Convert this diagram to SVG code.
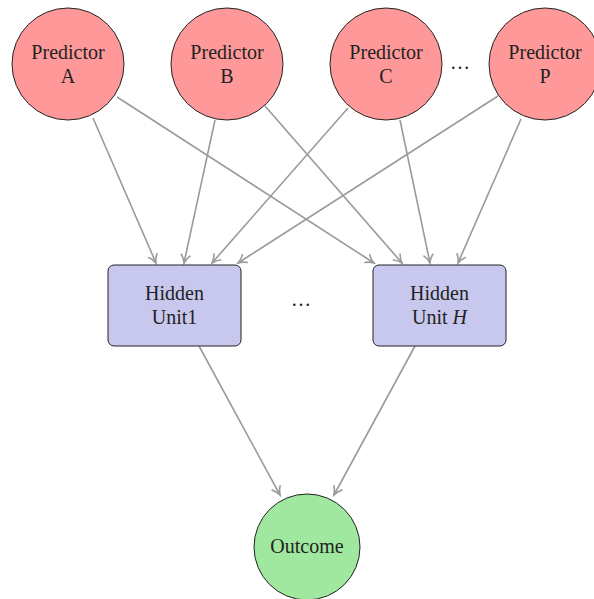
<svg xmlns="http://www.w3.org/2000/svg" width="594" height="599" viewBox="0 0 594 599">
<defs>
<style>
.pred{fill:#ff9999;stroke:#222;stroke-width:1}
.hid{fill:#c8c8ee;stroke:#222;stroke-width:1}
.out{fill:#a0e8a0;stroke:#222;stroke-width:1}
text{font-family:"Liberation Serif","DejaVu Serif",serif;font-size:20px;fill:#222;text-anchor:middle}
.e{stroke:#9a9a9a;stroke-width:1.6;fill:none;marker-end:url(#ah)}
</style>
<marker id="ah" viewBox="0 0 12 12" refX="10" refY="6" markerWidth="12" markerHeight="12" orient="auto" markerUnits="userSpaceOnUse">
<path d="M2,1.5 Q5,4.5 10,6 Q5,7.5 2,10.5" fill="none" stroke="#9a9a9a" stroke-width="1.6" stroke-linecap="round"/>
</marker>
</defs>
<rect width="594" height="599" fill="#fff"/>
<g id="connectors">
<line class="e" x1="93" y1="118" x2="156" y2="263"/>
<line class="e" x1="117" y1="97" x2="374" y2="263"/>
<line class="e" x1="215" y1="120" x2="184" y2="263"/>
<line class="e" x1="265" y1="106" x2="402" y2="263"/>
<line class="e" x1="348" y1="108" x2="212" y2="263"/>
<line class="e" x1="400" y1="120" x2="430" y2="263"/>
<line class="e" x1="498" y1="96" x2="238" y2="263"/>
<line class="e" x1="521" y1="119" x2="458" y2="263"/>
<line class="e" x1="199" y1="346" x2="280" y2="495"/>
<line class="e" x1="415" y1="346" x2="334" y2="495"/>
</g>
<g id="predA"><circle class="pred" cx="68" cy="64" r="56"/><text x="68" y="59">Predictor</text><text x="68" y="83">A</text></g>
<g id="predB"><circle class="pred" cx="227" cy="64" r="56"/><text x="227" y="59">Predictor</text><text x="227" y="83">B</text></g>
<g id="predC"><circle class="pred" cx="386" cy="64" r="56"/><text x="386" y="59">Predictor</text><text x="386" y="83">C</text></g>
<g id="dots1"><text x="460" y="69">…</text></g>
<g id="predP"><circle class="pred" cx="545" cy="64" r="56"/><text x="545" y="59">Predictor</text><text x="545" y="83">P</text></g>
<g id="hidden1"><rect class="hid" x="108" y="265" width="133" height="81" rx="6"/><text x="174.5" y="300">Hidden</text><text x="174.5" y="324">Unit1</text></g>
<g id="dots2"><text x="301" y="306">…</text></g>
<g id="hiddenH"><rect class="hid" x="373" y="265" width="133" height="81" rx="6"/><text x="439.5" y="300">Hidden</text><text x="439.5" y="324">Unit <tspan font-style="italic">H</tspan></text></g>
<g id="outcome"><circle class="out" cx="307" cy="547" r="53"/><text x="307" y="553">Outcome</text></g>
</svg>
